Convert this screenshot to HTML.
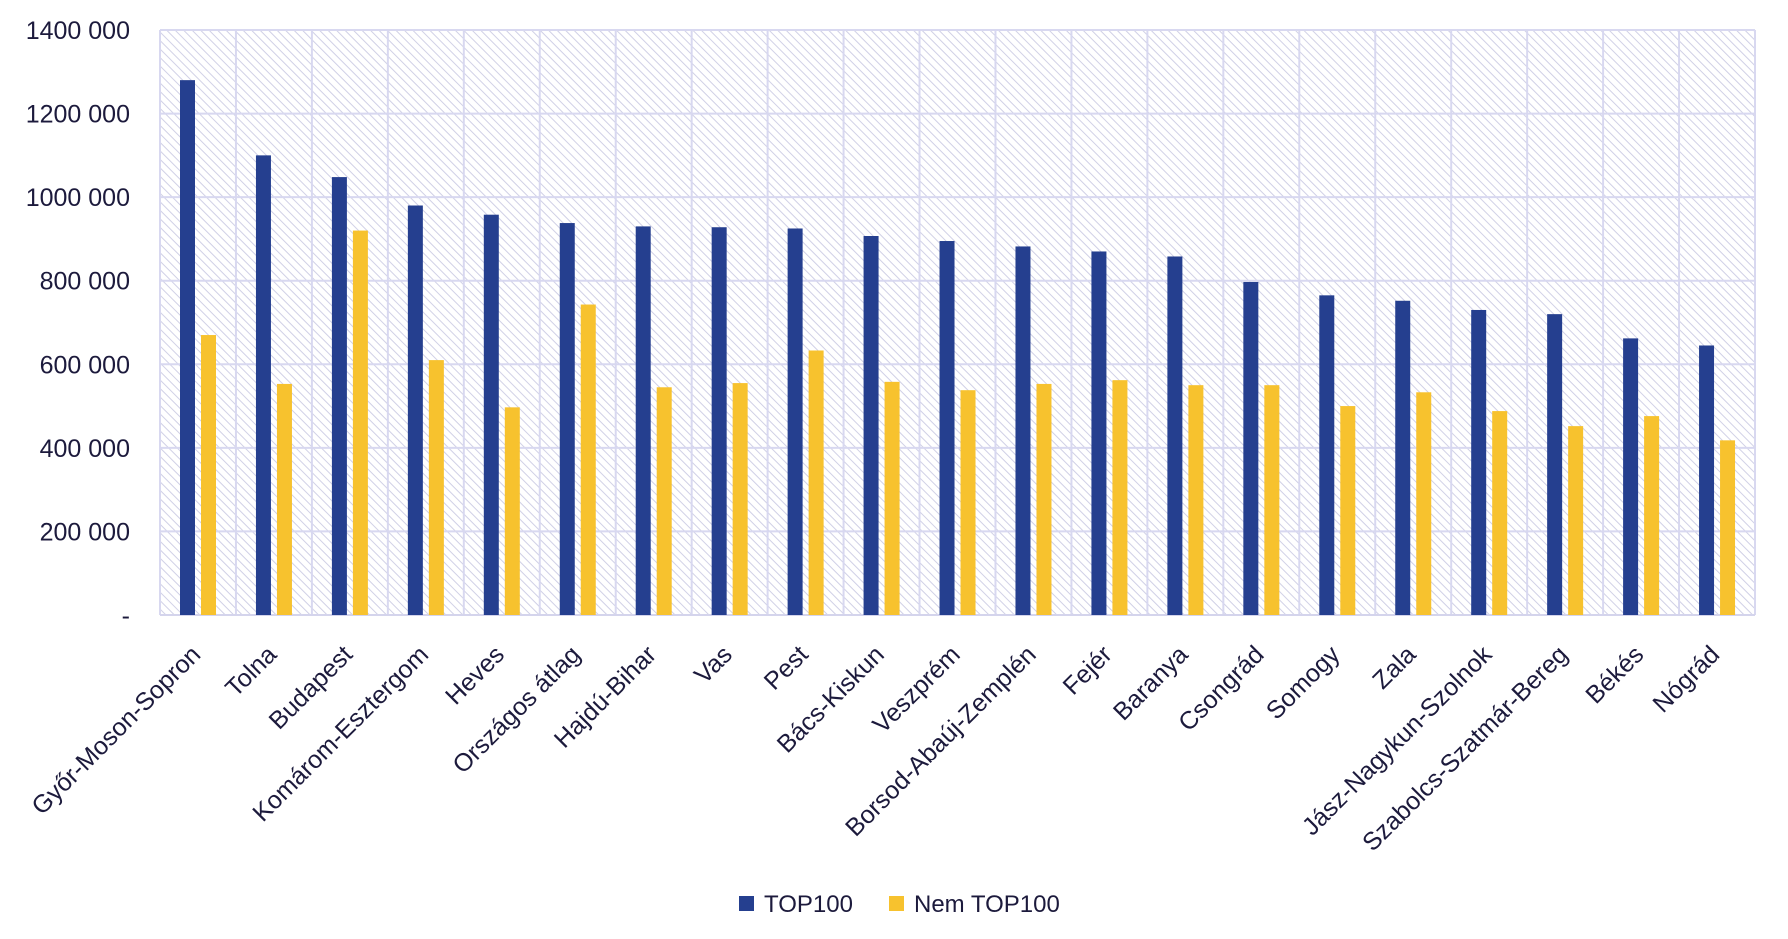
<!DOCTYPE html>
<html><head><meta charset="utf-8"><style>
html,body{margin:0;padding:0;background:#fff;}
svg text{font-family:"Liberation Sans",sans-serif;fill:#1c1a3c;}
</style></head><body>
<svg id="chart" width="1788" height="934" xmlns="http://www.w3.org/2000/svg">
<defs>
<pattern id="hatch" patternUnits="userSpaceOnUse" width="6" height="6" patternTransform="rotate(-45)">
<rect width="6" height="6" fill="#fff"/>
<line x1="0" y1="0" x2="0" y2="6" stroke="#d0d0e6" stroke-width="2"/>
</pattern>
</defs>
<g id="plot"></g>
</svg>
<script>
const categories=["Győr-Moson-Sopron","Tolna","Budapest","Komárom-Esztergom","Heves","Országos átlag","Hajdú-Bihar","Vas","Pest","Bács-Kiskun","Veszprém","Borsod-Abaúj-Zemplén","Fejér","Baranya","Csongrád","Somogy","Zala","Jász-Nagykun-Szolnok","Szabolcs-Szatmár-Bereg","Békés","Nógrád"];
const top100=[1280000,1100000,1048000,980000,958000,938000,930000,928000,925000,907000,895000,882000,870000,858000,797000,765000,752000,730000,720000,662000,645000];
const nemTop100=[670000,553000,920000,610000,497000,743000,545000,555000,633000,558000,538000,553000,562000,550000,550000,500000,533000,488000,452000,476000,418000];
const yTicks=[0,200000,400000,600000,800000,1000000,1200000,1400000];
const yTickLabels=["-","200 000","400 000","600 000","800 000","1000 000","1200 000","1400 000"];

const NS="http://www.w3.org/2000/svg";
const L=160,R=1755,T=30,B=615,yMax=1400000;
const cw=(R-L)/categories.length;
const y=v=>B-(v/yMax)*(B-T);
const x=i=>L+i*cw;
const g=document.getElementById('plot');
function mk(t,a){const e=document.createElementNS(NS,t);for(const k in a)e.setAttribute(k,a[k]);g.appendChild(e);return e;}
let bg=mk('rect',{x:L,y:T,width:R-L,height:B-T,fill:'url(#hatch)'});


yTicks.forEach((v,i)=>{
 if(i>0){let l=mk('line',{x1:L,x2:R,y1:y(v),y2:y(v),stroke:'#d8d8f0','stroke-width':2});
 
 }
 let t=mk('text',{x:130,y:y(v)+9,'text-anchor':'end','font-size':25});
 t.textContent=yTickLabels[i];
 
 
});
for(let i=0;i<=categories.length;i++){
 let l=mk('line',{x1:x(i),x2:x(i),y1:T,y2:B,stroke:'#d8d8f0','stroke-width':2});
 
 
}
let bl=mk('line',{x1:L,x2:R,y1:B,y2:B,stroke:'#d4d4ec','stroke-width':2});


categories.forEach((c,i)=>{
 let b1=mk('rect',{x:x(i)+20,y:y(top100[i]),width:15,height:B-y(top100[i]),fill:'#253f8f'});
 
 
 let b2=mk('rect',{x:x(i)+41,y:y(nemTop100[i]),width:15,height:B-y(nemTop100[i]),fill:'#f7c22e'});
 
 
 const cx=x(i)+cw/2+4, cy=656;
 let t=mk('text',{x:cx,y:cy,'text-anchor':'end','font-size':25,transform:`rotate(-45 ${cx} ${cy})`});
 t.textContent=c;
 
 
});
// legend
let s1=mk('rect',{x:739,y:896,width:15,height:15,fill:'#253f8f'});


let t1=mk('text',{x:764,y:912,'font-size':24});t1.textContent='TOP100';


let s2=mk('rect',{x:889,y:896,width:15,height:15,fill:'#f7c22e'});


let t2=mk('text',{x:914,y:912,'font-size':24});t2.textContent='Nem TOP100';


</script>
</body></html>
